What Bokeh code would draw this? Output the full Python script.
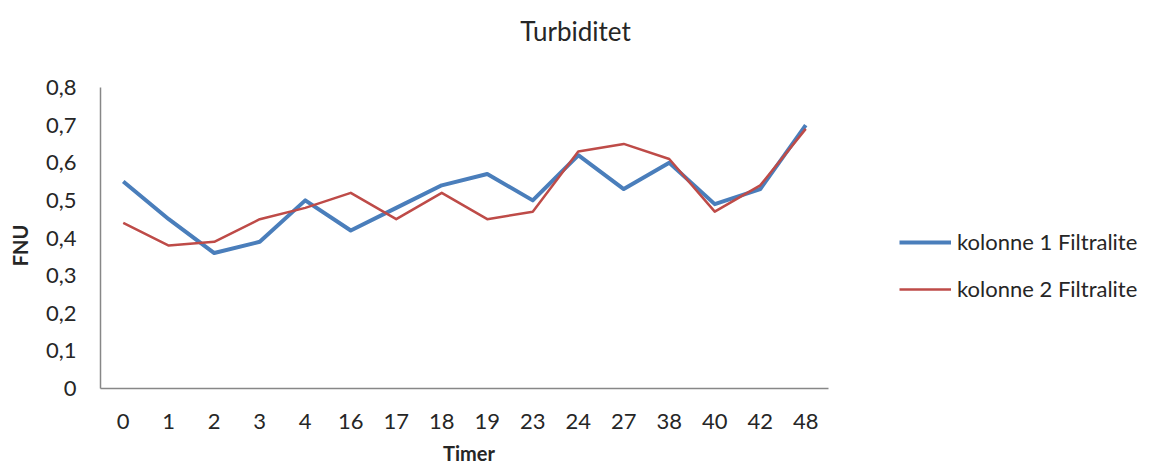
from bokeh.plotting import figure
from bokeh.models import (ColumnDataSource, Range1d, FixedTicker, LinearAxis,
                          CustomJSTickFormatter, Legend, LegendItem, Label)
from bokeh.embed import file_html
from bokeh.resources import INLINE

# Sampling times (hours) and turbidity readings (FNU)
timer = ["0", "1", "2", "3", "4", "16", "17", "18", "19", "23", "24", "27", "38", "40", "42", "48"]
kolonne1 = [0.55, 0.45, 0.36, 0.39, 0.50, 0.42, 0.48, 0.54, 0.57, 0.50, 0.62, 0.53, 0.60, 0.49, 0.53, 0.70]
kolonne2 = [0.44, 0.38, 0.39, 0.45, 0.48, 0.52, 0.45, 0.52, 0.45, 0.47, 0.63, 0.65, 0.61, 0.47, 0.54, 0.69]
y_ticks = [0, 0.1, 0.2, 0.3, 0.4, 0.5, 0.6, 0.7, 0.8]

FONT = "Lato"
TEXT = "#262626"
AXIS = "#878787"

# Times are evenly spaced categories: one slot per sample
pos = list(range(len(timer)))
src = ColumnDataSource(dict(x=pos, k1=kolonne1, k2=kolonne2))

# The frame runs to the right and top edges of the canvas so that the
# title and legend can sit inside it; the axes are bounded to the data area.
n = len(timer)
x_end = -0.5 + n * 1055 / 728
y_end = 0.8 * 388 / 301

p = figure(width=1155, height=469,
           x_range=Range1d(-0.5, x_end),
           y_range=Range1d(0, y_end),
           output_backend="svg", toolbar_location=None,
           min_border_left=100, min_border_right=0,
           min_border_top=0, min_border_bottom=81)
p.outline_line_color = None
p.background_fill_color = "white"
p.border_fill_color = "white"
p.xgrid.grid_line_color = None
p.ygrid.grid_line_color = None

r1 = p.line("x", "k1", source=src, line_color="#4a7ebb", line_width=4, line_join="round")
r2 = p.line("x", "k2", source=src, line_color="#be4b48", line_width=2.5, line_join="round")

# Main axes
for ax in (p.xaxis[0], p.yaxis[0]):
    ax.axis_line_color = AXIS
    ax.axis_line_width = 1.5
    ax.major_tick_line_color = None
    ax.minor_tick_line_color = None
    ax.major_label_text_font = FONT
    ax.major_label_text_font_size = "22px"
    ax.major_label_text_color = TEXT

p.xaxis.bounds = (-0.5, n - 0.5)
p.xaxis.ticker = FixedTicker(ticks=pos)
p.xaxis.major_label_overrides = {i: t for i, t in zip(pos, timer)}
p.xaxis.major_label_standoff = 19

p.yaxis.bounds = (0, 0.8)
p.yaxis.ticker = FixedTicker(ticks=y_ticks)
p.yaxis.formatter = CustomJSTickFormatter(
    code="return tick == 0 ? '0' : tick.toFixed(1).replace('.', ',');")
p.yaxis.major_label_standoff = 18


# Axis titles, centred on the data area rather than on the whole frame
def title_axis(at, text, standoff, orientation):
    ax = LinearAxis(ticker=FixedTicker(ticks=[at]),
                    formatter=CustomJSTickFormatter(code="return %r;" % text))
    ax.axis_line_color = None
    ax.major_tick_line_color = None
    ax.minor_tick_line_color = None
    ax.major_label_standoff = standoff
    ax.major_label_orientation = orientation
    ax.major_label_text_font = FONT
    ax.major_label_text_font_style = "bold"
    ax.major_label_text_font_size = "20px"
    ax.major_label_text_color = TEXT
    return ax


p.add_layout(title_axis(7.6, "Timer", 3, "horizontal"), "below")
p.add_layout(title_axis(0.38, "FNU", 4, "vertical"), "left")

# Title centred over the canvas
title = Label(x=475, y=358, x_units="screen", y_units="screen",
              text="Turbiditet", text_font=FONT, text_font_size="26px",
              text_color=TEXT, text_align="center", text_baseline="middle")
p.add_layout(title)

# Legend to the right of the data area
legend = Legend(items=[LegendItem(label="kolonne 1 Filtralite", renderers=[r1]),
                       LegendItem(label="kolonne 2 Filtralite", renderers=[r2])],
                location=(799, 86), orientation="vertical",
                glyph_width=52, glyph_height=20, label_height=20,
                label_standoff=6, spacing=20, padding=0, margin=0,
                border_line_color=None, background_fill_alpha=0,
                label_text_font=FONT, label_text_font_size="22px",
                label_text_color=TEXT)
p.add_layout(legend, "center")

open("out.html", "w").write(file_html(p, INLINE))
